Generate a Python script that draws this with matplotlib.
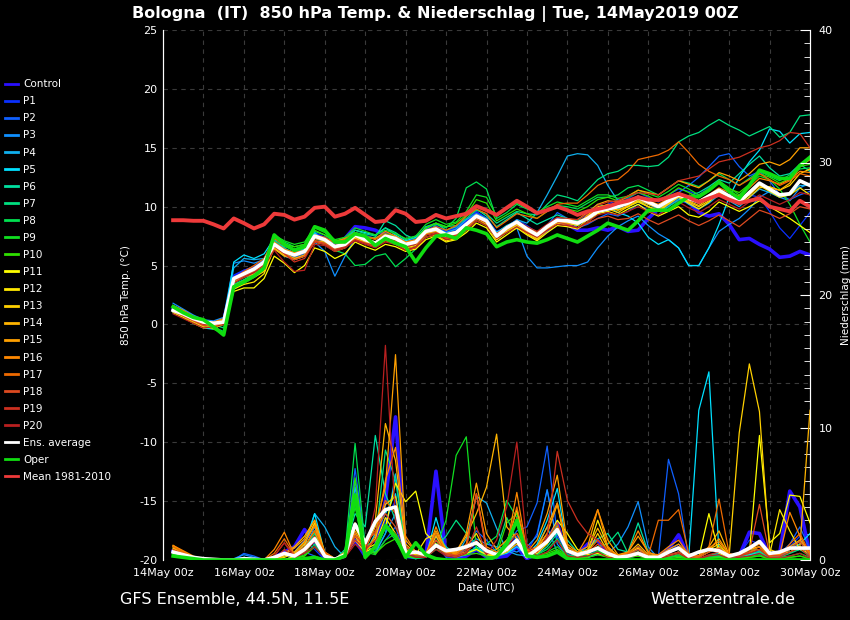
import matplotlib
matplotlib.use("Agg")
import matplotlib.pyplot as plt
import numpy as np

plt.rcParams["axes.unicode_minus"] = False

# forecast steps (hours after 14May2019 00z), 6-hourly
hours = np.arange(6, 385, 6)
day_ticks = np.arange(0, 385, 48)
day_labels = ["14May 00z", "16May 00z", "18May 00z", "20May 00z", "22May 00z",
              "24May 00z", "26May 00z", "28May 00z", "30May 00z"]

member_names = ["Control"] + ["P%d" % k for k in range(1, 21)]
member_colors = ["#2a10ff", "#0a30ff", "#1060ff", "#1090ff", "#10b0ee", "#00e0ff",
                 "#00e0a0", "#00e080", "#00e050", "#10e020", "#30e000",
                 "#ffff00", "#ffe800", "#ffd000", "#ffb400", "#ffa000",
                 "#ff8800", "#ee6a00", "#dd4a20", "#cc3020", "#b82020"]

# ---- 850 hPa temperature (deg C) ----
t_control = [1.3, 0.9, 0.4, 0.1, 0.0, 0.3, 4.0, 4.5, 4.8, 5.3, 6.9, 6.3, 6.0, 6.3, 7.6, 7.3,
             6.8, 7.3, 8.3, 8.2, 8.0, 7.6, 7.4, 6.9, 7.2, 8.0, 8.2, 7.8, 8.2, 8.8, 9.4, 8.9,
             7.3, 8.0, 8.5, 7.9, 7.4, 8.0, 8.8, 8.5, 8.0, 8.0, 8.2, 8.0, 8.3, 7.9, 8.0, 9.0,
             9.8, 10.2, 10.6, 10.4, 9.5, 9.2, 9.4, 8.5, 7.2, 7.3, 6.8, 6.4, 5.7, 5.8, 6.2, 5.9]
t_p1 = [1.4, 1.0, 0.6, 0.3, 0.2, 0.5, 4.2, 4.6, 4.9, 5.5, 6.9, 6.4, 6.1, 6.6, 7.8, 7.4,
        6.9, 7.1, 7.8, 7.6, 7.3, 7.8, 7.5, 7.0, 7.3, 8.3, 8.4, 7.9, 8.0, 8.8, 9.6, 9.0,
        7.9, 8.3, 8.9, 8.4, 7.8, 8.4, 9.0, 8.7, 8.9, 9.3, 9.8, 10.2, 10.6, 10.7, 11.2, 10.8,
        10.4, 11.0, 11.5, 11.3, 11.0, 11.6, 12.0, 11.2, 10.6, 11.0, 10.8, 9.6, 8.2, 7.3, 8.4, 9.5]
t_p2 = [1.0, 0.7, 0.3, 0.0, -0.1, 0.0, 3.6, 4.1, 4.5, 5.0, 6.6, 6.0, 5.7, 6.0, 7.3, 7.0,
        6.5, 6.6, 7.4, 7.0, 6.6, 7.3, 7.0, 6.6, 6.8, 7.7, 7.9, 7.4, 7.5, 8.2, 9.0, 8.6,
        7.4, 8.0, 8.4, 7.9, 7.5, 8.4, 9.5, 9.0, 8.2, 8.5, 9.0, 9.4, 9.2, 9.6, 10.2, 9.7,
        9.3, 10.0, 11.2, 11.8, 12.5, 13.4, 14.3, 14.5, 13.4, 12.6, 13.0, 12.2, 11.0, 10.6, 11.0, 11.3]
t_p3 = [1.8, 1.3, 0.8, 0.4, 0.3, 0.6, 5.2, 5.4, 5.2, 5.5, 6.5, 5.8, 5.5, 5.8, 7.0, 6.2,
        4.1, 5.8, 7.3, 7.0, 6.8, 7.5, 7.2, 6.6, 6.9, 7.8, 8.0, 7.5, 7.7, 8.4, 9.0, 8.7,
        7.3, 7.9, 8.2, 5.8, 4.8, 4.8, 4.9, 5.0, 5.0, 5.3, 6.5, 7.5, 8.3, 8.8, 9.2, 8.4,
        7.7, 7.2, 6.5, 5.0, 5.0, 6.5, 7.9, 8.5, 9.0, 9.8, 10.8, 11.3, 10.8, 10.5, 11.6, 12.0]
t_p4 = [1.6, 1.2, 0.7, 0.3, 0.2, 0.4, 4.8, 5.6, 5.5, 5.6, 7.2, 6.5, 6.0, 6.4, 7.5, 7.0,
        6.4, 6.7, 7.5, 7.1, 6.9, 7.6, 7.2, 6.8, 7.0, 7.9, 8.2, 7.8, 8.1, 8.9, 9.4, 9.0,
        7.8, 8.2, 8.9, 8.6, 9.5, 11.0, 12.6, 14.3, 14.5, 14.4, 13.5, 11.8, 10.5, 10.0, 10.5, 10.2,
        9.8, 10.3, 10.8, 10.2, 9.8, 10.3, 11.0, 10.5, 10.0, 10.8, 11.5, 11.2, 10.8, 11.0, 11.8, 11.8]
t_p5 = [1.3, 0.9, 0.3, -0.3, -0.4, 0.1, 5.3, 5.9, 5.6, 6.0, 7.3, 6.8, 6.3, 6.4, 7.8, 7.0,
        6.5, 7.2, 8.0, 7.8, 7.6, 8.2, 7.6, 7.1, 7.4, 8.0, 8.1, 7.7, 7.9, 8.6, 9.2, 8.8,
        7.8, 8.4, 8.8, 8.2, 7.8, 8.3, 8.7, 8.6, 8.4, 9.0, 9.8, 10.0, 9.5, 9.2, 8.6, 7.4,
        6.8, 7.2, 6.5, 5.0, 5.0, 6.5, 8.5, 10.8, 12.5, 13.8, 14.8, 16.6, 16.4, 15.4, 16.2, 16.3]
t_p6 = [1.1, 0.8, 0.4, 0.1, 0.0, 0.0, 3.5, 4.0, 4.6, 5.2, 6.9, 6.4, 6.1, 6.3, 7.4, 7.3,
        6.9, 7.0, 7.5, 7.2, 7.4, 8.8, 8.4, 7.6, 7.2, 8.3, 8.6, 8.0, 8.3, 9.2, 9.8, 9.2,
        8.3, 8.9, 9.5, 9.0, 8.5, 8.9, 9.3, 9.0, 8.8, 9.5, 10.2, 10.0, 9.8, 10.0, 10.4, 10.0,
        9.6, 10.0, 10.6, 10.9, 11.2, 11.7, 12.3, 12.0, 12.8, 13.6, 14.3, 13.3, 12.6, 12.8, 13.6, 13.0]
t_p7 = [1.5, 1.1, 0.6, 0.2, 0.0, -0.3, 3.4, 3.8, 4.3, 4.9, 7.1, 6.6, 6.4, 6.7, 7.9, 7.6,
        7.0, 7.3, 8.0, 7.7, 7.5, 8.2, 7.8, 7.2, 7.5, 8.1, 8.6, 8.3, 8.4, 9.0, 9.7, 9.4,
        8.6, 9.1, 9.6, 9.4, 9.3, 10.2, 11.0, 10.8, 10.5, 11.4, 12.3, 12.8, 13.0, 13.5, 13.5, 13.4,
        13.5, 14.2, 15.5, 16.0, 16.3, 16.9, 17.4, 16.9, 16.5, 16.0, 16.4, 16.8, 15.9, 16.3, 17.7, 17.8]
t_p8 = [1.4, 1.0, 0.5, 0.1, -0.2, -0.6, 3.3, 3.7, 4.2, 4.9, 7.4, 7.0, 6.6, 6.8, 7.6, 7.0,
        6.3, 6.0, 5.0, 5.1, 5.8, 6.0, 4.9, 5.6, 6.4, 7.6, 8.5, 8.2, 9.0, 11.6, 12.1, 11.5,
        9.0, 9.5, 10.2, 9.8, 9.5, 9.8, 10.1, 10.0, 9.8, 10.3, 10.8, 10.8, 11.0, 11.6, 11.8, 11.4,
        11.0, 11.6, 12.2, 12.0, 11.7, 12.2, 12.8, 12.3, 11.8, 12.4, 13.0, 12.6, 12.2, 12.7, 13.2, 13.3]
t_p9 = [1.3, 0.9, 0.4, 0.0, -0.3, -0.7, 3.0, 3.5, 4.0, 4.6, 7.6, 7.1, 6.8, 7.0, 8.2, 7.8,
        7.2, 7.4, 8.2, 7.9, 7.6, 8.0, 7.7, 7.3, 7.5, 8.5, 8.9, 8.5, 8.7, 9.6, 11.0, 10.8,
        9.2, 9.8, 10.3, 9.9, 9.5, 10.0, 10.4, 10.2, 10.0, 10.5, 11.0, 11.0, 10.7, 10.9, 11.4, 11.1,
        10.8, 11.3, 11.9, 11.5, 11.0, 11.5, 12.2, 11.6, 11.0, 11.8, 12.6, 12.3, 11.5, 10.2, 8.5, 7.0]
t_p10 = [1.2, 0.8, 0.4, 0.0, -0.4, -0.8, 3.1, 3.6, 4.1, 4.7, 7.3, 6.8, 6.6, 6.8, 8.0, 7.6,
         7.1, 7.3, 7.8, 7.5, 7.3, 7.7, 7.5, 7.0, 7.2, 8.2, 8.6, 8.3, 8.6, 9.3, 10.6, 10.3,
         8.8, 9.3, 9.8, 9.4, 9.0, 9.6, 10.0, 9.8, 9.6, 10.0, 10.6, 10.8, 10.5, 10.8, 11.2, 10.9,
         10.5, 11.0, 11.6, 11.2, 10.8, 11.3, 12.0, 11.5, 11.2, 11.9, 12.8, 12.5, 12.0, 12.4, 13.4, 13.6]
t_p11 = [1.0, 0.6, 0.1, -0.3, -0.2, 0.1, 2.8, 3.1, 3.1, 3.9, 5.8, 5.2, 4.4, 5.0, 6.5, 6.2,
         5.6, 6.0, 7.0, 6.6, 6.3, 6.8, 6.6, 6.2, 6.4, 7.2, 7.5, 7.0, 7.2, 7.8, 8.6, 8.2,
         7.0, 7.6, 8.2, 7.6, 7.1, 7.8, 8.4, 8.3, 8.1, 8.7, 9.4, 9.6, 9.3, 9.8, 10.2, 9.6,
         9.2, 9.6, 10.0, 9.3, 9.1, 9.6, 10.4, 10.0, 9.6, 10.0, 10.5, 10.0, 9.5, 9.0, 8.4, 7.8]
t_p12 = [1.1, 0.7, 0.2, -0.2, -0.3, 0.0, 3.0, 3.4, 3.6, 4.3, 6.5, 5.9, 5.5, 5.8, 7.0, 6.8,
         6.2, 6.5, 7.3, 6.9, 6.6, 7.2, 7.0, 6.5, 6.7, 7.6, 7.8, 7.3, 7.4, 8.1, 9.0, 8.5,
         7.2, 7.9, 8.4, 7.8, 7.3, 8.1, 8.8, 8.6, 8.4, 9.3, 10.0, 10.1, 9.7, 10.0, 10.5, 10.0,
         9.6, 10.2, 10.8, 10.3, 9.8, 10.4, 11.2, 10.8, 10.3, 11.0, 11.8, 11.3, 10.8, 11.0, 11.6, 11.0]
t_p13 = [1.2, 0.8, 0.3, -0.1, -0.1, 0.2, 3.3, 3.7, 4.0, 4.5, 6.6, 6.0, 5.6, 5.8, 7.0, 6.9,
         6.4, 6.7, 7.3, 7.0, 6.7, 7.2, 6.9, 6.4, 6.6, 7.4, 7.6, 7.1, 7.3, 8.0, 8.8, 8.4,
         7.2, 7.8, 8.3, 7.7, 7.2, 8.0, 8.6, 8.4, 8.2, 8.9, 9.6, 9.8, 9.5, 10.0, 10.4, 10.0,
         9.7, 10.3, 10.9, 10.4, 10.0, 10.5, 11.2, 10.7, 10.2, 10.8, 11.6, 11.7, 11.4, 11.8, 12.8, 13.2]
t_p14 = [1.3, 0.9, 0.4, 0.0, 0.0, 0.3, 3.6, 4.0, 4.3, 4.8, 6.4, 5.8, 5.6, 5.9, 7.1, 7.0,
         6.6, 6.9, 7.4, 7.1, 6.8, 7.3, 7.1, 6.7, 6.9, 7.7, 7.9, 7.4, 7.6, 8.3, 9.1, 8.6,
         7.4, 8.0, 8.5, 7.9, 7.4, 8.1, 8.7, 8.6, 8.5, 9.1, 9.7, 9.9, 9.7, 10.1, 10.6, 10.2,
         9.9, 10.4, 11.0, 10.5, 10.1, 10.7, 11.4, 10.9, 10.4, 11.0, 11.8, 11.6, 11.4, 12.0, 13.4, 14.0]
t_p15 = [1.5, 1.1, 0.6, 0.2, 0.1, 0.4, 3.8, 4.2, 4.5, 5.0, 6.7, 6.1, 5.8, 6.1, 7.3, 7.1,
         6.7, 7.0, 7.6, 7.3, 7.0, 7.6, 7.3, 6.8, 7.0, 7.8, 8.0, 7.5, 7.7, 8.4, 9.2, 8.7,
         7.5, 8.1, 8.6, 8.0, 7.5, 8.2, 8.9, 8.9, 8.9, 9.5, 10.2, 10.5, 10.4, 10.9, 11.4, 11.2,
         11.0, 11.6, 12.2, 11.9, 11.6, 12.2, 12.9, 12.6, 12.2, 12.8, 13.6, 13.8, 13.5, 14.0, 15.0, 15.0]
t_p16 = [1.6, 1.2, 0.7, 0.3, 0.2, 0.5, 4.0, 4.4, 4.8, 5.2, 7.0, 6.4, 6.1, 6.3, 7.4, 7.3,
         7.0, 7.3, 7.6, 7.4, 7.3, 7.9, 7.5, 7.0, 7.2, 7.9, 8.1, 7.7, 7.9, 8.6, 9.3, 8.9,
         7.7, 8.3, 8.7, 8.2, 7.8, 8.3, 8.8, 8.8, 8.7, 9.2, 9.9, 10.2, 10.0, 10.3, 10.8, 10.5,
         10.2, 10.7, 11.2, 10.8, 10.5, 11.0, 11.6, 11.2, 10.9, 11.6, 12.4, 12.2, 11.9, 12.3, 13.0, 12.9]
t_p17 = [1.4, 1.0, 0.5, 0.1, 0.0, 0.3, 3.9, 4.5, 5.0, 5.6, 7.3, 6.7, 6.3, 6.5, 7.6, 7.4,
         6.9, 7.2, 7.8, 7.5, 7.2, 7.7, 7.3, 6.9, 7.1, 8.0, 8.3, 8.0, 8.4, 9.2, 9.8, 9.4,
         8.2, 8.8, 9.4, 9.2, 9.0, 9.6, 10.2, 10.3, 10.3, 11.0, 11.8, 12.2, 12.3, 13.0, 14.0, 14.2,
         14.4, 14.8, 15.5, 14.6, 13.6, 13.0, 12.6, 12.3, 11.8, 12.3, 12.8, 12.3, 11.8, 12.2, 12.8, 12.6]
t_p18 = [1.1, 0.7, 0.3, -0.1, 0.0, 0.2, 3.7, 4.1, 4.5, 5.1, 6.7, 6.0, 5.5, 5.8, 7.1, 6.9,
         6.4, 6.6, 7.2, 6.9, 6.6, 7.1, 6.8, 6.3, 6.5, 7.4, 7.7, 7.3, 7.5, 8.2, 9.0, 8.6,
         7.5, 8.1, 8.6, 8.0, 7.6, 8.2, 8.7, 8.5, 8.2, 8.6, 9.0, 9.2, 8.9, 9.0, 9.4, 8.9,
         8.5, 8.9, 9.3, 8.8, 8.4, 8.8, 9.3, 8.8, 8.3, 9.0, 9.7, 9.4, 9.0, 9.4, 10.0, 9.8]
t_p19 = [1.2, 0.8, 0.4, 0.0, 0.0, 0.1, 3.8, 4.2, 4.6, 5.0, 6.6, 6.0, 5.3, 5.6, 7.0, 6.8,
         6.3, 6.6, 7.2, 6.9, 6.7, 7.3, 7.1, 6.6, 6.8, 7.6, 7.8, 7.4, 7.6, 8.4, 9.3, 8.9,
         7.7, 8.3, 8.8, 8.3, 7.9, 8.5, 9.1, 9.0, 8.9, 9.4, 10.1, 10.4, 10.5, 10.9, 11.2, 11.1,
         11.0, 11.6, 12.2, 12.4, 12.6, 13.2, 13.8, 14.0, 14.2, 14.6, 15.0, 15.2, 15.6, 16.3, 16.2, 15.0]
t_p20 = [0.9, 0.5, 0.1, -0.3, -0.2, 0.0, 3.5, 4.0, 4.4, 4.9, 6.3, 5.3, 4.5, 4.6, 6.8, 6.7,
         6.2, 6.5, 7.1, 6.8, 6.5, 7.0, 6.8, 6.3, 6.6, 7.4, 7.7, 7.2, 7.4, 8.0, 8.8, 8.4,
         7.3, 7.8, 8.3, 7.8, 7.4, 8.0, 8.5, 8.4, 8.2, 8.7, 9.3, 9.5, 9.3, 9.6, 10.0, 9.6,
         9.3, 9.8, 10.4, 9.9, 9.5, 10.0, 10.6, 10.2, 9.8, 10.4, 11.0, 10.6, 10.2, 10.6, 11.2, 11.0]
t_ens = [1.2, 0.9, 0.5, 0.2, 0.1, 0.2, 3.9, 4.3, 4.7, 5.3, 6.8, 6.2, 5.9, 6.2, 7.5, 7.2,
         6.6, 6.8, 7.6, 7.2, 6.9, 7.5, 7.3, 6.8, 7.0, 7.9, 8.1, 7.6, 7.8, 8.5, 9.2, 8.8,
         7.5, 8.2, 8.7, 8.1, 7.6, 8.3, 8.85, 8.8, 8.6, 9.0, 9.6, 9.8, 10.0, 10.3, 10.8, 10.4,
         10.0, 10.5, 11.0, 10.7, 10.4, 10.9, 11.4, 10.9, 10.4, 11.2, 12.0, 11.5, 11.0, 11.1, 12.2, 11.8]
t_oper = [1.5, 1.0, 0.6, 0.4, -0.2, -0.9, 3.2, 3.6, 4.1, 4.8, 7.6, 6.8, 6.3, 6.6, 8.3, 8.0,
          7.0, 7.0, 7.7, 7.5, 6.7, 7.3, 6.9, 6.6, 5.3, 6.5, 7.5, 7.6, 7.3, 8.2, 8.0, 7.7,
          6.6, 7.0, 7.2, 7.0, 6.9, 7.2, 7.6, 7.3, 7.0, 7.5, 8.0, 8.6, 8.3, 8.0, 8.8, 9.7,
          9.7, 9.7, 10.3, 10.85, 10.85, 11.4, 12.1, 11.3, 10.7, 11.8, 13.1, 12.8, 12.4, 12.4, 13.5, 14.2]
t_clim = [8.85, 8.85, 8.8, 8.8, 8.5, 8.15, 9.0, 8.6, 8.15, 8.5, 9.4, 9.3, 8.9, 9.15, 9.9, 10.0,
          9.15, 9.4, 9.9, 9.3, 8.7, 8.8, 9.7, 9.4, 8.7, 8.8, 9.3, 9.0, 9.2, 9.4, 10.05, 9.7,
          9.3, 9.9, 10.5, 10.0, 9.45, 9.7, 10.0, 9.7, 9.3, 9.6, 9.8, 10.0, 10.3, 10.5, 10.8, 10.6,
          10.55, 10.8, 11.1, 10.8, 10.4, 10.7, 11.0, 10.6, 10.3, 10.5, 10.7, 10.0, 9.8, 9.6, 10.5, 10.0]

# ---- precipitation (mm per 6h) ----
r_control = [0.7, 0.4, 0.1, 0, 0, 0, 0, 0.1, 0, 0, 0.2, 0.6, 1.0, 2.3, 1.2, 0.2,
             0, 0.5, 1.5, 0.3, 1.0, 4.5, 10.8, 0.5, 0.2, 0.3, 6.7, 0.4, 0.1, 0.3, 0.8, 0.2,
             0.2, 0.3, 1.0, 0.1, 0.5, 1.5, 2.8, 0.3, 0.4, 1.2, 1.5, 0.3, 0, 0.2, 0.5, 0.2,
             0.3, 0.8, 1.9, 0.2, 0, 0.2, 0.4, 0.1, 0.3, 2.1, 2.0, 0.3, 0.5, 5.2, 4.0, 0.4]
r_p1 = [0.6, 0.3, 0.1, 0, 0, 0, 0, 0, 0, 0, 0, 0.3, 0.6, 1.5, 0.8, 0,
        0, 0.3, 2.0, 0.4, 0.8, 3.0, 4.5, 0.6, 0.3, 0.2, 1.5, 0.3, 0.5, 1.2, 0.9, 0.4,
        0.1, 0.8, 1.8, 0.6, 2.0, 5.3, 1.5, 0.4, 0.2, 0.3, 0.8, 0.2, 0, 0.1, 0.4, 0.1,
        0.2, 0.6, 1.2, 0.2, 0, 0.3, 0.5, 0.2, 0.4, 1.5, 1.2, 0.2, 0.3, 1.0, 1.8, 0.2]
r_p2 = [0.6, 0.3, 0.1, 0, 0, 0, 0, 0.5, 0.3, 0, 0, 0, 0.2, 0.6, 0.3, 0,
        0, 0.2, 6.9, 1.2, 0.5, 1.5, 2.5, 0.2, 0.1, 0.3, 1.2, 0.2, 0.3, 0.8, 2.2, 1.5,
        0.6, 1.0, 2.2, 2.5, 4.3, 8.6, 1.8, 0.6, 0.3, 0.2, 0.6, 0.3, 0.1, 0.5, 1.0, 0.3,
        0.2, 7.6, 5.0, 0.1, 0, 0.2, 0.3, 0.1, 0.2, 0.8, 0.6, 0.1, 0.5, 1.2, 2.5, 0.8]
r_p3 = [0.8, 0.4, 0.1, 0, 0, 0, 0.1, 0.4, 0.2, 0, 0, 0, 0.3, 0.8, 2.5, 0.4,
        0, 0.3, 6.0, 1.0, 0.6, 2.0, 3.5, 0.4, 0.2, 0.2, 1.8, 0.5, 0.2, 1.0, 1.6, 1.2,
        1.0, 0.8, 0.6, 1.0, 1.8, 5.3, 1.2, 0.3, 0.4, 0.6, 0.9, 0.5, 1.2, 2.5, 4.4, 1.0,
        0.1, 0.5, 0.9, 0.2, 0.1, 0.3, 0.5, 0.2, 0.1, 0.4, 0.6, 0.1, 0.2, 0.8, 1.5, 0.5]
r_p4 = [0.7, 0.4, 0.1, 0, 0, 0, 0, 0.2, 0.1, 0, 0, 0, 0.3, 1.2, 3.5, 2.5,
        1.0, 0.2, 5.5, 0.8, 0.5, 2.0, 6.5, 0.5, 0.1, 0.4, 2.0, 0.4, 0.3, 1.6, 4.8, 4.3,
        2.4, 0.7, 0.4, 0.3, 1.0, 2.5, 0.6, 0.3, 0.2, 0.2, 0.4, 0.3, 0.2, 0.4, 0.8, 0.3,
        0.1, 0.3, 0.6, 0.2, 0.1, 0.2, 0.3, 0.1, 0.2, 0.4, 0.5, 0.1, 0.3, 0.6, 0.9, 0.6]
r_p5 = [0.6, 0.3, 0.1, 0, 0, 0, 0, 0, 0, 0, 0, 0, 0.2, 1.0, 3.5, 0.5,
        0.1, 0.2, 4.5, 0.5, 2.0, 3.5, 5.0, 0.3, 0.2, 0.2, 3.2, 0.6, 0.2, 0.4, 1.0, 0.5,
        0.3, 0.5, 1.0, 0.4, 1.2, 3.0, 5.4, 0.8, 0.3, 0.2, 0.5, 0.6, 0.2, 0.3, 0.6, 0.2,
        0.1, 0.2, 0.3, 0.2, 11.3, 14.2, 0.5, 0.2, 0.2, 0.4, 0.6, 0.2, 0.3, 0.8, 1.2, 2.0]
r_p6 = [0.5, 0.3, 0.1, 0, 0, 0, 0, 0, 0, 0, 0, 0, 0.1, 0.6, 1.8, 0.3,
        0, 0.8, 3.5, 2.5, 9.4, 5.0, 3.0, 0.4, 0.2, 0.3, 2.0, 1.0, 0.4, 0.6, 0.9, 0.4,
        0.6, 1.2, 2.0, 0.5, 0.4, 1.0, 2.0, 1.5, 0.6, 0.8, 1.6, 2.0, 0.8, 0.6, 2.8, 0.6,
        0.2, 0.3, 0.5, 0.2, 0.1, 0.3, 0.4, 0.2, 0.3, 0.9, 0.7, 0.2, 0.4, 0.6, 0.8, 0.3]
r_p7 = [0.4, 0.2, 0.1, 0, 0, 0, 0, 0, 0, 0, 0, 0, 0.2, 0.8, 2.0, 0.4,
        0, 0.6, 5.0, 1.0, 1.5, 8.3, 6.0, 1.0, 0.3, 0.2, 1.0, 1.8, 3.0, 2.0, 1.2, 0.6,
        0.8, 3.2, 1.5, 0.6, 0.8, 1.5, 2.6, 0.6, 0.3, 0.4, 1.0, 1.2, 2.1, 0.5, 0.6, 0.2,
        0.1, 0.3, 0.5, 0.2, 0.1, 0.3, 0.6, 0.2, 0.2, 0.5, 0.6, 0.1, 0.2, 0.5, 0.8, 0.4]
r_p8 = [0.5, 0.3, 0.1, 0, 0, 0, 0, 0, 0, 0, 0, 0, 0.1, 0.3, 1.2, 0.2,
        0, 0.5, 8.8, 1.0, 0.6, 2.5, 1.5, 0.3, 0.1, 0.2, 0.8, 0.5, 0.3, 0.4, 0.8, 1.2,
        1.8, 4.5, 3.2, 0.8, 0.4, 0.8, 1.6, 0.4, 0.2, 0.3, 0.6, 0.5, 0.1, 0.2, 0.4, 0.2,
        0.1, 0.2, 0.4, 0.1, 0.1, 0.2, 0.3, 0.1, 0.1, 0.3, 0.4, 0.1, 0.2, 0.3, 0.5, 0.2]
r_p9 = [0.4, 0.2, 0.1, 0, 0, 0, 0, 0, 0, 0, 0, 0, 0.1, 0.4, 1.6, 0.3,
        0, 0.4, 4.0, 0.6, 0.4, 1.5, 2.0, 0.2, 0.3, 0.5, 1.0, 3.0, 7.9, 9.3, 0.8, 0.2,
        0.3, 1.5, 2.8, 0.5, 0.3, 0.6, 1.0, 0.3, 0.2, 0.3, 0.7, 0.3, 0.1, 0.2, 0.3, 0.1,
        0.1, 0.2, 0.3, 0.1, 0.1, 0.2, 0.2, 0.1, 0.1, 0.2, 0.3, 0.1, 0.1, 0.2, 0.3, 0.1]
r_p10 = [0.4, 0.2, 0.1, 0, 0, 0, 0, 0, 0, 0, 0, 0, 0.1, 0.3, 1.0, 0.2,
         0, 0.3, 6.2, 0.8, 0.5, 1.2, 1.6, 0.3, 0.2, 0.6, 1.2, 0.5, 0.3, 0.4, 0.5, 0.3,
         0.4, 2.8, 3.5, 0.6, 0.3, 0.5, 0.8, 0.3, 0.1, 0.2, 0.4, 0.2, 0.1, 0.2, 0.3, 0.1,
         0.1, 0.1, 0.2, 0.1, 0.1, 0.1, 0.2, 0.1, 0.1, 0.2, 0.3, 0.1, 0.1, 0.2, 0.3, 0.1]
r_p11 = [0.8, 0.4, 0.1, 0, 0, 0, 0, 0, 0, 0, 0, 0, 0.3, 1.0, 2.2, 0.4,
         0, 0.3, 1.5, 0.6, 1.0, 2.5, 5.8, 4.4, 5.2, 2.0, 1.2, 0.4, 0.3, 0.5, 0.8, 0.4,
         0.3, 0.8, 1.6, 0.5, 0.6, 1.5, 3.0, 2.0, 0.8, 0.4, 0.5, 0.3, 0.2, 0.4, 0.6, 0.3,
         0.2, 0.4, 0.5, 0.2, 0.2, 3.5, 0.5, 0.2, 0.4, 0.5, 9.4, 1.3, 2.0, 4.9, 4.8, 2.8]
r_p12 = [0.9, 0.5, 0.1, 0, 0, 0, 0, 0, 0, 0, 0, 0.2, 0.5, 1.2, 2.8, 0.5,
         0.1, 0.4, 2.5, 0.8, 1.2, 3.2, 2.0, 0.6, 0.4, 1.6, 2.0, 0.8, 0.4, 0.6, 1.4, 0.6,
         0.4, 1.2, 3.8, 0.7, 0.5, 1.2, 2.5, 1.0, 0.5, 0.6, 3.0, 1.0, 0.3, 0.5, 0.9, 0.3,
         0.2, 0.6, 0.9, 0.3, 0.2, 0.6, 1.0, 0.3, 0.3, 0.8, 1.0, 0.4, 3.8, 2.2, 0.8, 0.5]
r_p13 = [1.0, 0.6, 0.2, 0, 0, 0, 0, 0, 0, 0, 0, 0.3, 0.6, 1.4, 2.6, 0.4,
         0.1, 0.5, 1.8, 0.6, 1.6, 4.2, 4.8, 0.8, 0.4, 0.3, 1.8, 0.6, 0.5, 1.0, 2.0, 0.5,
         0.3, 0.6, 1.2, 0.5, 0.8, 2.0, 4.2, 0.6, 0.3, 0.5, 2.0, 0.6, 0.2, 0.3, 0.5, 0.2,
         0.2, 0.3, 0.6, 0.2, 0.3, 0.8, 1.2, 0.3, 9.6, 14.8, 11.2, 0.8, 0.5, 0.6, 1.0, 0.6]
r_p14 = [1.1, 0.6, 0.2, 0, 0, 0, 0, 0, 0, 0, 0, 0.5, 1.0, 1.8, 3.0, 0.6,
         0.1, 0.6, 2.8, 1.0, 3.0, 10.3, 7.5, 1.2, 0.5, 0.4, 1.5, 0.6, 0.6, 1.8, 3.5, 5.5,
         9.5, 2.5, 1.6, 0.6, 1.0, 2.5, 4.3, 0.8, 0.4, 0.8, 2.4, 0.9, 0.3, 0.5, 1.2, 0.4,
         0.3, 0.6, 1.0, 0.3, 0.3, 1.0, 2.2, 0.4, 0.4, 0.8, 1.0, 0.3, 0.4, 0.8, 1.0, 11.3]
r_p15 = [1.0, 0.6, 0.2, 0, 0, 0, 0, 0, 0, 0, 0, 0.4, 0.9, 1.6, 3.0, 0.5,
         0.1, 0.5, 2.2, 0.8, 2.5, 5.5, 15.5, 1.5, 0.6, 0.5, 2.2, 0.8, 0.6, 2.0, 5.8, 2.0,
         0.8, 1.5, 2.0, 0.6, 1.5, 3.5, 6.4, 1.2, 0.6, 1.0, 3.8, 1.5, 0.4, 0.6, 1.8, 0.6,
         0.3, 0.8, 1.2, 0.4, 0.3, 0.8, 1.6, 0.4, 0.3, 0.6, 0.8, 0.3, 0.5, 1.0, 1.5, 0.6]
r_p16 = [1.1, 0.7, 0.3, 0, 0, 0, 0, 0, 0, 0, 0.8, 2.1, 0.4, 1.3, 2.6, 0.5,
         0.1, 0.4, 2.0, 0.6, 1.8, 6.0, 8.5, 1.8, 0.6, 0.3, 2.5, 0.6, 0.5, 1.2, 5.0, 1.0,
         0.6, 1.0, 5.1, 0.6, 1.0, 2.0, 4.3, 1.0, 0.5, 1.8, 3.8, 1.0, 0.3, 0.6, 2.2, 0.5,
         0.4, 1.0, 1.5, 0.4, 0.3, 0.9, 1.4, 0.4, 0.4, 0.8, 1.2, 0.3, 0.4, 3.6, 1.8, 0.4]
r_p17 = [1.0, 0.6, 0.2, 0, 0, 0, 0, 0, 0, 0, 0.5, 1.6, 0.4, 1.0, 2.2, 0.6,
         0.1, 0.4, 2.6, 1.5, 2.0, 4.5, 3.5, 1.0, 0.5, 0.3, 2.0, 0.5, 0.4, 1.0, 5.0, 0.8,
         0.5, 1.2, 4.0, 0.8, 0.6, 1.5, 2.5, 0.8, 0.4, 0.6, 1.5, 0.8, 0.2, 0.5, 1.0, 0.3,
         3.0, 3.0, 3.8, 0.5, 0.3, 1.0, 4.6, 0.5, 0.3, 0.6, 1.0, 0.3, 0.3, 1.2, 2.0, 0.5]
r_p18 = [0.8, 0.5, 0.2, 0, 0, 0, 0, 0, 0, 0, 0.3, 1.3, 0.3, 0.8, 1.8, 0.4,
         0.1, 0.3, 1.8, 1.2, 2.2, 3.5, 2.5, 1.0, 0.6, 0.4, 1.5, 0.5, 0.3, 0.8, 5.0, 0.6,
         0.4, 0.9, 3.2, 0.6, 0.8, 1.6, 2.8, 0.6, 0.3, 0.5, 1.2, 0.4, 0.2, 0.4, 0.8, 0.2,
         0.3, 0.6, 1.0, 0.3, 0.2, 0.6, 0.9, 0.3, 0.4, 0.6, 4.2, 0.4, 0.3, 0.8, 1.4, 0.3]
r_p19 = [0.7, 0.4, 0.1, 0, 0, 0, 0, 0, 0, 0, 0, 0.8, 0.2, 0.6, 1.4, 0.3,
         0, 0.3, 1.5, 0.8, 1.5, 2.5, 2.0, 0.6, 0.3, 0.3, 1.0, 0.4, 0.3, 0.6, 2.5, 0.5,
         0.5, 1.0, 2.0, 1.2, 0.6, 1.8, 8.2, 4.5, 3.0, 2.0, 1.5, 0.6, 0.2, 0.4, 0.6, 0.2,
         0.2, 0.4, 0.6, 0.2, 0.1, 0.4, 0.6, 0.2, 0.3, 0.5, 0.8, 0.2, 0.2, 0.6, 0.9, 0.2]
r_p20 = [0.6, 0.4, 0.1, 0, 0, 0, 0, 0, 0, 0, 0.3, 1.3, 0.2, 0.5, 1.0, 0.2,
         0, 0.2, 1.2, 0.5, 4.0, 16.2, 3.0, 0.5, 0.2, 0.2, 0.8, 0.3, 0.2, 0.5, 1.5, 0.4,
         1.5, 4.0, 8.9, 1.0, 0.3, 0.6, 1.5, 0.3, 0.2, 0.3, 0.6, 0.2, 0.1, 0.2, 0.4, 0.1,
         0.1, 0.3, 0.5, 0.1, 0.1, 0.3, 0.4, 0.1, 0.2, 0.3, 0.5, 0.1, 0.1, 0.3, 0.5, 0.1]
r_ens = [0.6, 0.4, 0.2, 0.1, 0.05, 0, 0, 0.1, 0.05, 0, 0.2, 0.5, 0.3, 0.8, 1.6, 0.3,
         0.05, 0.4, 2.7, 1.3, 2.9, 3.8, 4.0, 0.5, 0.6, 0.4, 1.1, 0.7, 0.8, 1.0, 1.3, 0.7,
         0.4, 0.8, 1.5, 0.25, 0.8, 1.4, 2.3, 0.7, 0.4, 0.6, 0.9, 0.5, 0.2, 0.3, 0.5, 0.2,
         0.2, 0.6, 0.9, 0.3, 0.6, 0.8, 0.7, 0.3, 0.5, 0.9, 1.4, 0.5, 0.6, 0.9, 0.9, 0.9]
r_oper = [0.3, 0.2, 0.1, 0, 0, 0, 0, 0, 0, 0, 0, 0, 0, 0.1, 0.2, 0,
          0, 0.3, 4.9, 0.2, 1.0, 2.6, 1.8, 0.2, 1.3, 0.4, 0.1, 0, 0, 0, 0, 0,
          0.25, 1.2, 3.0, 0.3, 0.2, 0.3, 0.6, 0.1, 0, 0, 0, 0, 0, 0, 0, 0,
          0, 0, 0, 0, 0, 0, 0, 0, 0, 0, 0, 0, 0, 0, 0, 0]

temp_members = [t_control, t_p1, t_p2, t_p3, t_p4, t_p5, t_p6, t_p7, t_p8, t_p9, t_p10,
                t_p11, t_p12, t_p13, t_p14, t_p15, t_p16, t_p17, t_p18, t_p19, t_p20]
rain_members = [r_control, r_p1, r_p2, r_p3, r_p4, r_p5, r_p6, r_p7, r_p8, r_p9, r_p10,
                r_p11, r_p12, r_p13, r_p14, r_p15, r_p16, r_p17, r_p18, r_p19, r_p20]

bg = "black"
fig = plt.figure(figsize=(8.5, 6.2), dpi=100, facecolor=bg)
ax = fig.add_axes([163 / 850, 60 / 620, 647 / 850, 530 / 620], facecolor=bg)
ax2 = ax.twinx()

handles = []
for name, col, tt, rr in zip(member_names, member_colors, temp_members, rain_members):
    lw = 2.6 if name == "Control" else 0.9
    ln, = ax.plot(hours, tt, color=col, lw=lw, label=name)
    ax2.plot(hours, rr, color=col, lw=lw)
    handles.append(ln)

ln, = ax.plot(hours, t_ens, color="white", lw=2.6, label="Ens. average")
ax2.plot(hours, r_ens, color="white", lw=2.6)
handles.append(ln)
ln, = ax.plot(hours, t_oper, color="#10dd10", lw=2.6, label="Oper")
ax2.plot(hours, r_oper, color="#10dd10", lw=2.6)
handles.append(ln)
ln, = ax.plot(hours, t_clim, color="#ee3a3a", lw=2.8, label="Mean 1981-2010")
handles.append(ln)

# axes styling
ax.set_xlim(0, 384)
ax.set_ylim(-20, 25)
ax2.set_ylim(0, 40)
ax.set_xticks(day_ticks)
ax.set_xticklabels(day_labels)
ax.set_xticks(np.arange(0, 385, 24), minor=True)
ax.set_yticks(np.arange(-20, 26, 5))
ax2.set_yticks(np.arange(0, 41, 10))
ax2.set_yticks(np.arange(0, 41, 1), minor=True)

ax.grid(True, which="both", axis="x", color="#3a3a3a", ls=(0, (4, 4)), lw=0.8)
ax.grid(True, which="major", axis="y", color="#3a3a3a", ls=(0, (4, 4)), lw=0.8)
ax.set_axisbelow(True)

for a in (ax, ax2):
    for side in ("top", "bottom"):
        a.spines[side].set_visible(False)
    a.spines["left"].set_color("white")
    a.spines["right"].set_color("white")
    a.tick_params(colors="white", labelsize=8)

ax.tick_params(axis="x", which="both", length=0, pad=6)
ax.tick_params(axis="y", length=0, pad=4)
ax2.tick_params(axis="y", which="major", direction="in", length=7, pad=6)
ax2.tick_params(axis="y", which="minor", direction="in", length=4, color="white")

ax.set_xlabel("Date (UTC)", color="white", fontsize=7.5, labelpad=3)
ax.set_ylabel("850 hPa Temp. (°C)", color="white", fontsize=7.5, labelpad=6)
ax2.set_ylabel("Niederschlag (mm)", color="white", fontsize=7.5, labelpad=6)

fig.text(0.512, 0.978, "Bologna  (IT)  850 hPa Temp. & Niederschlag | Tue, 14May2019 00Z",
         color="white", fontsize=11.5, fontweight="bold", ha="center", va="center")
fig.text(120 / 850, 1 - 600 / 620, "GFS Ensemble, 44.5N, 11.5E", color="white",
         fontsize=11.5, ha="left", va="center")
fig.text(795 / 850, 1 - 600 / 620, "Wetterzentrale.de", color="white",
         fontsize=11.5, ha="right", va="center")

leg = fig.legend(handles=handles, loc="upper left", bbox_to_anchor=(0.0, 1 - 74 / 620),
                 frameon=False, fontsize=7.5, labelcolor="white", handlelength=1.2,
                 handletextpad=0.5, labelspacing=0.68, borderaxespad=0.2,
                 borderpad=0.3)
for l in leg.get_lines():
    l.set_linewidth(2.0)

fig.savefig("out.png", dpi=100, facecolor=bg)
